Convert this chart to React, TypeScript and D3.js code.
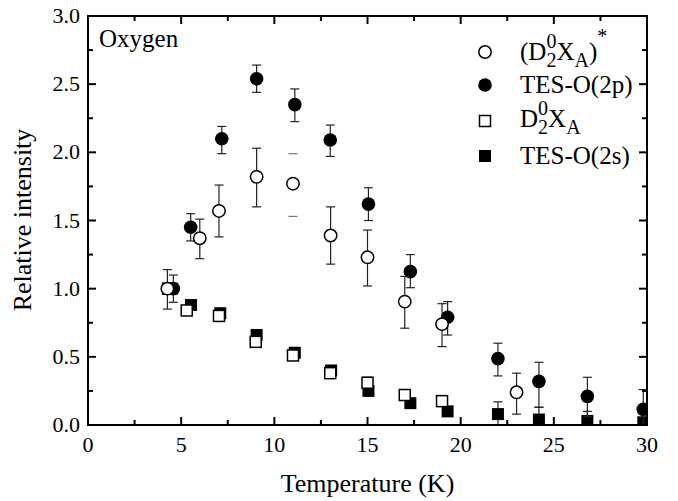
import * as d3 from "d3";
import React, { useEffect } from "react";

// (D2^0 X_A)* -- open circles
const openCircT = [4.26, 6.0, 7.03, 9.05, 11.0, 13.02, 15.0, 17.0, 19.0, 23.0];
const openCircY = [1.0, 1.37, 1.57, 1.82, 1.77, 1.39, 1.23, 0.905, 0.74, 0.24];
const openCircLo = [0.85, 1.22, 1.38, 1.6, 1.53, 1.18, 1.02, 0.71, 0.575, 0.08];
const openCircHi = [1.14, 1.51, 1.76, 2.03, 1.99, 1.6, 1.43, 1.09, 0.89, 0.38];

// TES-O(2p) -- filled circles
const fillCircT = [4.58, 5.51, 7.18, 9.05, 11.1, 13.0, 15.05, 17.3, 19.3, 22.0, 24.2, 26.8, 29.8];
const fillCircY = [1.0, 1.45, 2.1, 2.54, 2.35, 2.09, 1.62, 1.125, 0.79, 0.487, 0.32, 0.21, 0.115];
const fillCircLo = [0.9, 1.35, 1.99, 2.44, 2.225, 1.97, 1.5, 1.007, 0.66, 0.36, 0.13, 0.06, -0.03];
const fillCircHi = [1.1, 1.55, 2.19, 2.64, 2.465, 2.2, 1.74, 1.25, 0.905, 0.6, 0.46, 0.35, 0.26];

// D2^0 X_A -- open squares
const openSqT = [4.3, 5.3, 7.03, 9.0, 11.0, 13.0, 15.0, 17.0, 19.0];
const openSqY = [1.0, 0.84, 0.8, 0.61, 0.51, 0.38, 0.31, 0.22, 0.175];
const openSqLo = [0.97, 0.81, 0.76, 0.57, 0.48, 0.35, 0.27, 0.19, 0.15];
const openSqHi = [1.03, 0.87, 0.84, 0.65, 0.54, 0.41, 0.35, 0.25, 0.2];

// TES-O(2s) -- filled squares
const fillSqT = [4.5, 5.53, 7.1, 9.05, 11.1, 13.05, 15.05, 17.3, 19.3, 22.0, 24.2, 26.8, 29.8];
const fillSqY = [1.0, 0.88, 0.82, 0.66, 0.53, 0.4, 0.25, 0.16, 0.1, 0.08, 0.04, 0.03, 0.02];
const fillSqLo = [0.97, 0.85, 0.79, 0.62, 0.5, 0.37, 0.22, 0.13, 0.07, 0.0, -0.03, -0.03, -0.03];
const fillSqHi = [1.03, 0.91, 0.85, 0.7, 0.56, 0.43, 0.28, 0.19, 0.13, 0.17, 0.13, 0.1, 0.08];

const xTicks = [0, 5, 10, 15, 20, 25, 30];
const yTicks = [0.0, 0.5, 1.0, 1.5, 2.0, 2.5, 3.0];

const left = 88, right = 647, top = 16, bottom = 425;
const font = "Liberation Serif, Tinos, Times New Roman, FreeSerif, serif";

const x = d3.scaleLinear().domain([0, 30]).range([left, right]);
const y = d3.scaleLinear().domain([0, 3]).range([bottom, top]);

const makeSeries = (T, Y, lo, hi) =>
  T.map((t, i) => ({ t, v: Y[i], lo: lo[i], hi: hi[i] }));

const series = [
  { key: "fsq", data: makeSeries(fillSqT, fillSqY, fillSqLo, fillSqHi), shape: "square", filled: true },
  { key: "osq", data: makeSeries(openSqT, openSqY, openSqLo, openSqHi), shape: "square", filled: false },
  { key: "fci", data: makeSeries(fillCircT, fillCircY, fillCircLo, fillCircHi), shape: "circle", filled: true },
  { key: "oci", data: makeSeries(openCircT, openCircY, openCircLo, openCircHi), shape: "circle", filled: false },
];

const Marker = ({ shape, filled, cx, cy }) => {
  if (shape === "circle") {
    return (
      <circle
        cx={cx}
        cy={cy}
        r={filled ? 6.8 : 6.2}
        fill={filled ? "#000" : "#fff"}
        stroke="#000"
        strokeWidth={filled ? 0 : 1.5}
      />
    );
  }
  const sz = filled ? 12 : 11;
  return (
    <rect
      x={cx - sz / 2}
      y={cy - sz / 2}
      width={sz}
      height={sz}
      fill={filled ? "#000" : "#fff"}
      stroke="#000"
      strokeWidth={filled ? 0 : 1.5}
    />
  );
};

const Txt = (props) => <text fontFamily={font} style={{ fontFamily: font }} {...props} />;

const App = () => {
  useEffect(() => {
    document.body.style.margin = "0";
  }, []);

  const xMinor = d3.range(2.5, 30, 5);
  const yMinor = d3.range(0.25, 3, 0.5);

  return (
    <svg width={678} height={501} style={{ display: "block" }}>
      <rect width={678} height={501} fill="#fff" />
      <clipPath id="plotclip">
        <rect x={left} y={top} width={right - left} height={bottom - top} />
      </clipPath>

      <g clipPath="url(#plotclip)">
        {series.map((s) => (
          <g key={s.key}>
            {s.data.map((d, i) => {
              const cx = x(d.t);
              // open circle at 11 K only shows its caps in the original
              const capsOnly = s.key === "oci" && d.t === 11.0;
              const col = capsOnly ? "#777" : "#222";
              return (
                <g key={i}>
                  {!capsOnly && (
                    <line x1={cx} x2={cx} y1={y(d.lo)} y2={y(d.hi)} stroke={col} strokeWidth={1.2} />
                  )}
                  <line x1={cx - 4.5} x2={cx + 4.5} y1={y(d.lo)} y2={y(d.lo)} stroke={col} strokeWidth={1.2} />
                  <line x1={cx - 4.5} x2={cx + 4.5} y1={y(d.hi)} y2={y(d.hi)} stroke={col} strokeWidth={1.2} />
                  <Marker shape={s.shape} filled={s.filled} cx={cx} cy={y(d.v)} />
                </g>
              );
            })}
          </g>
        ))}
      </g>

      {/* frame */}
      <rect x={left} y={top} width={right - left} height={bottom - top} fill="none" stroke="#000" strokeWidth={2} />

      {/* inward ticks on all four sides */}
      <g stroke="#000" strokeWidth={2}>
        {xTicks.map((t) => (
          <g key={"xt" + t}>
            <line x1={x(t)} x2={x(t)} y1={bottom} y2={bottom - 8} />
            <line x1={x(t)} x2={x(t)} y1={top} y2={top + 8} />
          </g>
        ))}
        {xMinor.map((t) => (
          <g key={"xm" + t}>
            <line x1={x(t)} x2={x(t)} y1={bottom} y2={bottom - 5} />
            <line x1={x(t)} x2={x(t)} y1={top} y2={top + 5} />
          </g>
        ))}
        {yTicks.map((v) => (
          <g key={"yt" + v}>
            <line x1={left} x2={left + 8} y1={y(v)} y2={y(v)} />
            <line x1={right} x2={right - 8} y1={y(v)} y2={y(v)} />
          </g>
        ))}
        {yMinor.map((v) => (
          <g key={"ym" + v}>
            <line x1={left} x2={left + 5} y1={y(v)} y2={y(v)} />
            <line x1={right} x2={right - 5} y1={y(v)} y2={y(v)} />
          </g>
        ))}
      </g>

      {/* tick labels */}
      {xTicks.map((t) => (
        <Txt key={"xl" + t} x={x(t)} y={452} textAnchor="middle" fontSize={22}>
          {t}
        </Txt>
      ))}
      {yTicks.map((v) => (
        <Txt key={"yl" + v} x={80} y={y(v) + 7} textAnchor="end" fontSize={22}>
          {v.toFixed(1)}
        </Txt>
      ))}

      {/* axis titles */}
      <Txt x={(left + right) / 2} y={492} textAnchor="middle" fontSize={26}>
        Temperature (K)
      </Txt>
      <Txt transform="translate(31,220) rotate(-90)" textAnchor="middle" fontSize={26}>
        Relative intensity
      </Txt>

      <Txt x={99} y={47} fontSize={25}>
        Oxygen
      </Txt>

      {/* legend */}
      <Marker shape="circle" filled={false} cx={485} cy={52} />
      <Marker shape="circle" filled={true} cx={485} cy={85} />
      <Marker shape="square" filled={false} cx={485} cy={121} />
      <Marker shape="square" filled={true} cx={485} cy={156} />

      <Txt x={520} y={60} fontSize={25}>
        <tspan>(D</tspan>
        <tspan dy={7} fontSize={20}>2</tspan>
        <tspan dx={-10} dy={-19} fontSize={20}>0</tspan>
        <tspan dy={12}>X</tspan>
        <tspan dy={7} fontSize={20}>A</tspan>
        <tspan dy={-7}>)</tspan>
        <tspan dy={-17} fontSize={20}>*</tspan>
      </Txt>
      <Txt x={520} y={93} fontSize={25}>TES-O(2p)</Txt>
      <Txt x={520} y={127} fontSize={25}>
        <tspan>D</tspan>
        <tspan dy={7} fontSize={20}>2</tspan>
        <tspan dx={-10} dy={-19} fontSize={20}>0</tspan>
        <tspan dy={12}>X</tspan>
        <tspan dy={7} fontSize={20}>A</tspan>
      </Txt>
      <Txt x={520} y={164} fontSize={25}>TES-O(2s)</Txt>
    </svg>
  );
};

export default App;
